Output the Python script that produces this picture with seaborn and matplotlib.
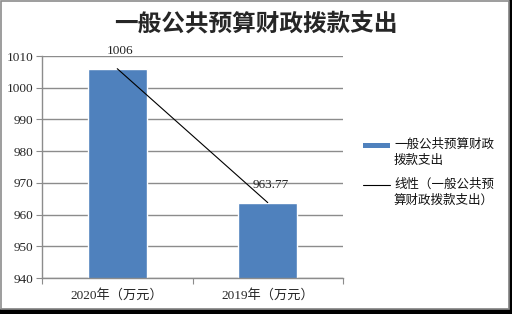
import numpy as np
import pandas as pd
import seaborn as sns
import matplotlib.pyplot as plt
from matplotlib.patches import Rectangle
from matplotlib.lines import Line2D

categories = ["2020年（万元）", "2019年（万元）"]
values = [1006, 963.77]
value_labels = ["1006", "963.77"]
title = "一般公共预算财政拨款支出"
bar_name = "一般公共预算财政\n拨款支出"
trend_name = "线性（一般公共预\n算财政拨款支出）"
yticks = [940, 950, 960, 970, 980, 990, 1000, 1010]

sns.set_style("white")
plt.rcParams['font.family'] = ['Liberation Serif', 'Noto Sans CJK SC', 'DejaVu Sans']

W, H = 512, 314
fig = plt.figure(figsize=(W / 100, H / 100), dpi=100)
ax = fig.add_axes([42/W, 1 - 278/H, 301/W, 222/H])

df = pd.DataFrame({"cat": categories, "val": values})
sns.barplot(data=df, x="cat", y="val", color="#4F81BD", saturation=1, width=0.39, ax=ax, zorder=2)

# linear trend
xs = np.arange(len(values))
k, b = np.polyfit(xs, values, 1)
ax.plot(xs, k * xs + b, color="black", lw=0.8, zorder=3)

for x, v, lab in zip(xs, values, value_labels):
    ax.annotate(lab, (x, v), xytext=(2, 8.5), textcoords="offset points", ha="center", va="bottom",
                fontsize=9.5, color="#222222", zorder=4)

ax.set_ylim(940, 1010)
ax.set_xlim(-0.5, 1.5)
ax.set_yticks(yticks)
ax.set_yticklabels([str(t) for t in yticks], fontsize=9.5)
ax.yaxis.grid(True, color="#8c8c8c", lw=1)
ax.set_axisbelow(True)
ax.set_xlabel("")
ax.set_ylabel("")
ax.set_xticks([-0.5, 0.5, 1.5], minor=False)
ax.set_xticklabels([])
ax.set_xticks([0, 1], minor=True)
ax.set_xticklabels(categories, minor=True, fontsize=9.5)
ax.tick_params(axis="x", which="minor", length=0, pad=8)
ax.tick_params(axis="x", which="major", length=4, color="#8c8c8c", direction="out", bottom=True)
ax.tick_params(axis="y", length=4, color="#8c8c8c", direction="out", left=True, pad=2)
for s in ["top", "right"]:
    ax.spines[s].set_visible(False)
for s in ["left", "bottom"]:
    ax.spines[s].set_color("#8c8c8c")
    ax.spines[s].set_linewidth(1)

fig.text(0.5, 1 - 24/H, title, ha="center", va="center", fontsize=17, fontweight="bold",
         family=['Noto Sans CJK SC'])

# legend (drawn manually so handles align with the first text line)
lf = ['Noto Sans CJK SC']
fig.patches.append(Rectangle((363/W, 1 - 147.5/H), 27/W, 4.5/H, transform=fig.transFigure,
                             facecolor="#4F81BD", edgecolor="none"))
fig.text(394/W, 1 - 138/H, bar_name, ha="left", va="top", fontsize=9, family=lf,
         linespacing=1.25, color="#111111")
fig.add_artist(Line2D([363/W, 390/W], [1 - 185/H, 1 - 185/H], transform=fig.transFigure,
                      color="black", lw=0.8))
fig.text(394/W, 1 - 178/H, trend_name, ha="left", va="top", fontsize=9, family=lf,
         linespacing=1.25, color="#111111")

# figure border with shadow
fig.patches.append(Rectangle((509/W, 0), 3/W, 1, transform=fig.transFigure, color="black", zorder=0))
fig.patches.append(Rectangle((0, 0), 1, 5/H, transform=fig.transFigure, color="black", zorder=0))
fig.patches.append(Rectangle((1/W, 5.5/H), 507.5/W, 307.5/H, transform=fig.transFigure,
                             fill=False, edgecolor="#8c8c8c", lw=1.2, zorder=1))

fig.savefig("out.png", dpi=100)
